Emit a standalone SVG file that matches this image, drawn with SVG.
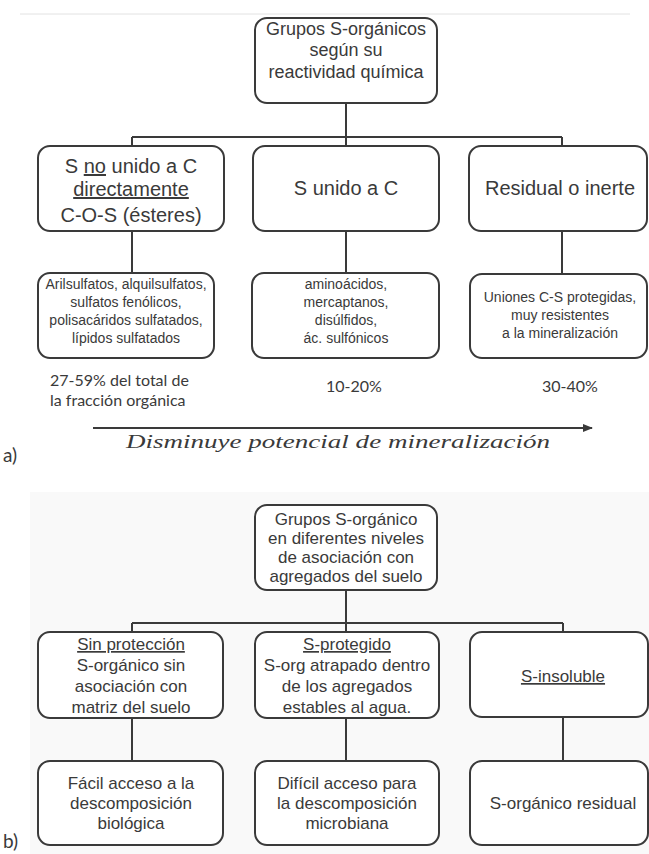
<svg xmlns="http://www.w3.org/2000/svg" width="649" height="854" viewBox="0 0 649 854">
<style>
.box{fill:#ffffff;stroke:#3a3a3a;stroke-width:2}
.ln{fill:none;stroke:#3a3a3a;stroke-width:2}
text{font-family:"Liberation Sans",Arial,sans-serif;fill:#3a3a3a;text-anchor:middle}
.t18{font-size:18px}
.t20{font-size:20px}
.t14{font-size:14px}
.t17{font-size:17px}
.pc{font-family:Lato,"Open Sans",sans-serif;font-size:16px;text-anchor:start}
.it{font-family:"Liberation Serif","Times New Roman",serif;font-style:italic;font-size:18px;text-anchor:start}
.lab{font-family:Lato,"Open Sans",sans-serif;font-size:19px;text-anchor:start}
.u{text-decoration:underline}
</style>
<defs>
<marker id="ah" markerWidth="10" markerHeight="8" refX="9" refY="4" orient="auto" markerUnits="userSpaceOnUse">
<path d="M0,0 L10,4 L0,8 Z" fill="#3a3a3a"/>
</marker>
</defs>
<rect x="0" y="0" width="649" height="854" fill="#ffffff"/>
<rect x="30" y="492" width="619" height="362" fill="#f9f9f9"/>
<line x1="20" y1="14" x2="630" y2="14" stroke="#e2e2e2" stroke-width="1"/>

<g id="connectors">
<path class="ln" d="M346,103 V146 M132,137 H562 M132,137 V146 M562,137 V146 M132,231 V273 M346,231 V273 M562,231 V274"/>
<path class="ln" d="M346,590 V632 M132,623 H563 M132,623 V632 M563,623 V632 M132,718 V761 M346,718 V761 M563,717 V761"/>
<line x1="93" y1="428" x2="592" y2="428" stroke="#3a3a3a" stroke-width="2" marker-end="url(#ah)"/>
</g>

<g id="a-root">
<rect class="box" x="255" y="18" width="182" height="85" rx="12"/>
<text class="t18" x="346" y="35">Grupos S-orgánicos</text>
<text class="t18" x="346" y="56">según su</text>
<text class="t18" x="346" y="78">reactividad química</text>
</g>
<g id="a-ester">
<rect class="box" x="38" y="146" width="186" height="85" rx="12"/>
<text class="t20" x="131" y="173">S <tspan class="u">no</tspan> unido a C</text>
<text class="t20 u" x="131" y="196">directamente</text>
<text class="t20" x="131" y="222">C-O-S (ésteres)</text>
</g>
<g id="a-unido">
<rect class="box" x="253" y="146" width="186" height="85" rx="12"/>
<text class="t20" x="346" y="195">S unido a C</text>
</g>
<g id="a-residual">
<rect class="box" x="469" y="146" width="178" height="85" rx="12"/>
<text class="t20" x="560" y="195">Residual o inerte</text>
</g>
<g id="a-ester-list">
<rect class="box" x="38" y="273" width="176" height="85" rx="12"/>
<text class="t14" x="126" y="289">Arilsulfatos, alquilsulfatos,</text>
<text class="t14" x="126" y="307">sulfatos fenólicos,</text>
<text class="t14" x="126" y="325">polisacáridos sulfatados,</text>
<text class="t14" x="126" y="343">lípidos sulfatados</text>
</g>
<g id="a-unido-list">
<rect class="box" x="252" y="273" width="187" height="85" rx="12"/>
<text class="t14" x="346" y="289">aminoácidos,</text>
<text class="t14" x="346" y="307">mercaptanos,</text>
<text class="t14" x="346" y="325">disúlfidos,</text>
<text class="t14" x="346" y="343">ác. sulfónicos</text>
</g>
<g id="a-residual-list">
<rect class="box" x="470" y="274" width="177" height="84" rx="12"/>
<text class="t14" x="560" y="302">Uniones C-S protegidas,</text>
<text class="t14" x="560" y="320">muy resistentes</text>
<text class="t14" x="560" y="338">a la mineralización</text>
</g>
<g id="a-percent">
<text class="pc" x="50" y="386">27-59% del total de</text>
<text class="pc" x="50" y="406">la fracción orgánica</text>
<text class="pc" x="326" y="392">10-20%</text>
<text class="pc" x="542" y="392">30-40%</text>
<text class="it" x="126" y="448" textLength="424" lengthAdjust="spacingAndGlyphs">Disminuye potencial de mineralización</text>
<text class="lab" x="3" y="462">a)</text>
</g>

<g id="b-root">
<rect class="box" x="255" y="505" width="182" height="85" rx="12"/>
<text class="t17" x="346" y="525">Grupos S-orgánico</text>
<text class="t17" x="346" y="544">en diferentes niveles</text>
<text class="t17" x="346" y="563">de asociación con</text>
<text class="t17" x="346" y="582">agregados del suelo</text>
</g>
<g id="b-sin">
<rect class="box" x="38" y="632" width="185" height="86" rx="12"/>
<text class="t17 u" x="131" y="650">Sin protección</text>
<text class="t17" x="131" y="671">S-orgánico sin</text>
<text class="t17" x="131" y="692">asociación con</text>
<text class="t17" x="131" y="713">matriz del suelo</text>
</g>
<g id="b-prot">
<rect class="box" x="255" y="632" width="184" height="86" rx="12"/>
<text class="t17 u" x="347" y="650">S-protegido</text>
<text class="t17" x="347" y="671">S-org atrapado dentro</text>
<text class="t17" x="347" y="692">de los agregados</text>
<text class="t17" x="347" y="713">estables al agua.</text>
</g>
<g id="b-insol">
<rect class="box" x="470" y="632" width="178" height="85" rx="12"/>
<text class="t17 u" x="563" y="682">S-insoluble</text>
</g>
<g id="b-facil">
<rect class="box" x="38" y="761" width="185" height="84" rx="12"/>
<text class="t17" x="131" y="789">Fácil acceso a la</text>
<text class="t17" x="131" y="809">descomposición</text>
<text class="t17" x="131" y="829">biológica</text>
</g>
<g id="b-dificil">
<rect class="box" x="255" y="761" width="184" height="84" rx="12"/>
<text class="t17" x="347" y="789">Difícil acceso para</text>
<text class="t17" x="347" y="809">la descomposición</text>
<text class="t17" x="347" y="829">microbiana</text>
</g>
<g id="b-residual">
<rect class="box" x="470" y="761" width="178" height="84" rx="12"/>
<text class="t17" x="563" y="809">S-orgánico residual</text>
</g>
<text class="lab" x="3" y="848">b)</text>
</svg>
